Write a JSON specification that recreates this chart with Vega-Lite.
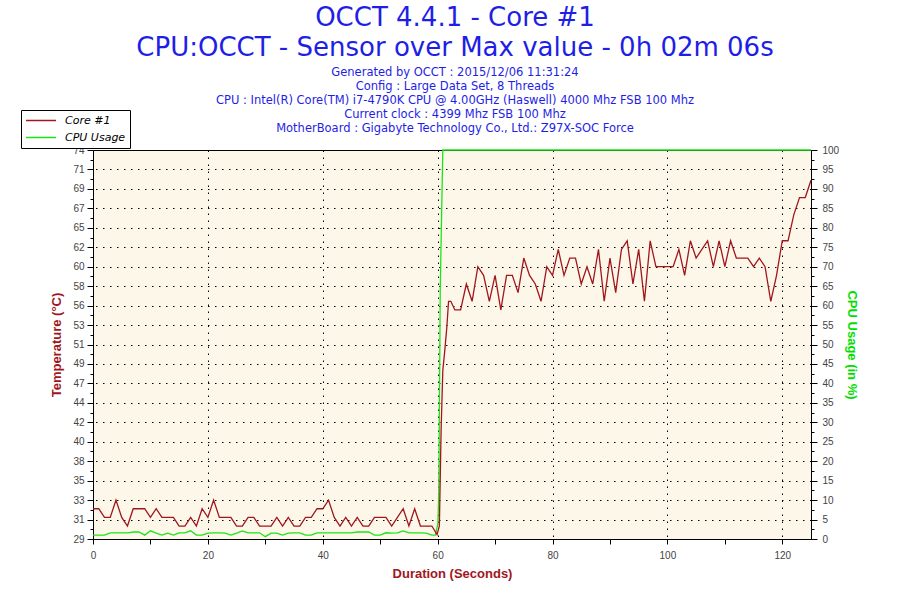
{
  "$schema": "https://vega.github.io/schema/vega-lite/v6.json",
  "width": 718,
  "height": 389,
  "autosize": {"type": "none"},
  "padding": {"left": 93, "top": 150, "right": 88, "bottom": 61},
  "background": "white",
  "title": {
    "text": ["OCCT 4.4.1 - Core #1", "CPU:OCCT - Sensor over Max value - 0h 02m 06s"],
    "subtitle": ["Generated by OCCT : 2015/12/06 11:31:24", "Config : Large Data Set, 8 Threads", "CPU : Intel(R) Core(TM) i7-4790K CPU @ 4.00GHz (Haswell) 4000 Mhz FSB 100 Mhz", "Current clock : 4399 Mhz FSB 100 Mhz", "MotherBoard : Gigabyte Technology Co., Ltd.: Z97X-SOC Force"],
    "anchor": "middle",
    "frame": "group",
    "dx": 3,
    "font": "DejaVu Sans",
    "fontSize": 26,
    "fontWeight": "normal",
    "color": "#1E1EE6",
    "lineHeight": 30,
    "subtitleFont": "DejaVu Sans",
    "subtitleFontSize": 11.5,
    "subtitleColor": "#1E1EE6",
    "subtitleLineHeight": 14,
    "subtitlePadding": 6,
    "offset": -25
  },
  "datasets": {
    "core": [
      {"time": 0, "temp": 32}, {"time": 1, "temp": 32}, {"time": 2, "temp": 31}, {"time": 3, "temp": 31}, {"time": 4, "temp": 33},
      {"time": 5, "temp": 31}, {"time": 6, "temp": 30}, {"time": 7, "temp": 32}, {"time": 8, "temp": 32}, {"time": 9, "temp": 32},
      {"time": 10, "temp": 31}, {"time": 11, "temp": 32}, {"time": 12, "temp": 31}, {"time": 13, "temp": 31}, {"time": 14, "temp": 31},
      {"time": 15, "temp": 30}, {"time": 16, "temp": 30}, {"time": 17, "temp": 31}, {"time": 18, "temp": 30}, {"time": 19, "temp": 32},
      {"time": 20, "temp": 31}, {"time": 21, "temp": 33}, {"time": 22, "temp": 31}, {"time": 23, "temp": 31}, {"time": 24, "temp": 31},
      {"time": 25, "temp": 30}, {"time": 26, "temp": 30}, {"time": 27, "temp": 31}, {"time": 28, "temp": 31}, {"time": 29, "temp": 30},
      {"time": 30, "temp": 30}, {"time": 31, "temp": 30}, {"time": 32, "temp": 31}, {"time": 33, "temp": 30}, {"time": 34, "temp": 31},
      {"time": 35, "temp": 30}, {"time": 36, "temp": 30}, {"time": 37, "temp": 31}, {"time": 38, "temp": 31}, {"time": 39, "temp": 32},
      {"time": 40, "temp": 32}, {"time": 41, "temp": 33}, {"time": 42, "temp": 31}, {"time": 43, "temp": 30}, {"time": 44, "temp": 31},
      {"time": 45, "temp": 30}, {"time": 46, "temp": 31}, {"time": 47, "temp": 30}, {"time": 48, "temp": 30}, {"time": 49, "temp": 31},
      {"time": 50, "temp": 31}, {"time": 51, "temp": 31}, {"time": 52, "temp": 30}, {"time": 53, "temp": 31}, {"time": 54, "temp": 32},
      {"time": 55, "temp": 30}, {"time": 56, "temp": 32}, {"time": 57, "temp": 30}, {"time": 58, "temp": 30}, {"time": 59, "temp": 30},
      {"time": 59.9, "temp": 29}, {"time": 60.3, "temp": 30}, {"time": 60.6, "temp": 41}, {"time": 60.9, "temp": 48}, {"time": 61.2, "temp": 50},
      {"time": 61.6, "temp": 53}, {"time": 61.9, "temp": 56}, {"time": 62.3, "temp": 56}, {"time": 63, "temp": 55}, {"time": 64, "temp": 55},
      {"time": 65, "temp": 58}, {"time": 66, "temp": 56}, {"time": 67, "temp": 60}, {"time": 68, "temp": 59}, {"time": 69, "temp": 56},
      {"time": 70, "temp": 59}, {"time": 71, "temp": 55}, {"time": 72, "temp": 59}, {"time": 73, "temp": 59}, {"time": 74, "temp": 57},
      {"time": 75, "temp": 61}, {"time": 76, "temp": 59}, {"time": 77, "temp": 58}, {"time": 78, "temp": 56}, {"time": 79, "temp": 60},
      {"time": 80, "temp": 59}, {"time": 81, "temp": 62}, {"time": 82, "temp": 59}, {"time": 83, "temp": 61}, {"time": 84, "temp": 61},
      {"time": 85, "temp": 58}, {"time": 86, "temp": 60}, {"time": 87, "temp": 58}, {"time": 88, "temp": 62}, {"time": 89, "temp": 56},
      {"time": 90, "temp": 61}, {"time": 91, "temp": 57}, {"time": 92, "temp": 62}, {"time": 93, "temp": 63}, {"time": 94, "temp": 58},
      {"time": 95, "temp": 62}, {"time": 96, "temp": 56}, {"time": 97, "temp": 63}, {"time": 98, "temp": 60}, {"time": 99, "temp": 60},
      {"time": 100, "temp": 60}, {"time": 101, "temp": 60}, {"time": 102, "temp": 62}, {"time": 103, "temp": 59}, {"time": 104, "temp": 63},
      {"time": 105, "temp": 61}, {"time": 106, "temp": 62}, {"time": 107, "temp": 63}, {"time": 108, "temp": 60}, {"time": 109, "temp": 63},
      {"time": 110, "temp": 60}, {"time": 111, "temp": 63}, {"time": 112, "temp": 61}, {"time": 113, "temp": 61}, {"time": 114, "temp": 61},
      {"time": 115, "temp": 60}, {"time": 116, "temp": 61}, {"time": 117, "temp": 60}, {"time": 118, "temp": 56}, {"time": 119, "temp": 59},
      {"time": 120, "temp": 63}, {"time": 121, "temp": 63}, {"time": 122, "temp": 66}, {"time": 123, "temp": 68}, {"time": 124, "temp": 68},
      {"time": 125, "temp": 70}
    ],
    "cpu": [
      {"time": 0, "usage": 1}, {"time": 1, "usage": 1}, {"time": 2, "usage": 1}, {"time": 3, "usage": 1.6}, {"time": 4, "usage": 1.6},
      {"time": 5, "usage": 1.6}, {"time": 6, "usage": 1.6}, {"time": 7, "usage": 1.8}, {"time": 8, "usage": 1.8}, {"time": 9, "usage": 1},
      {"time": 10, "usage": 2.1}, {"time": 11, "usage": 1.5}, {"time": 12, "usage": 1}, {"time": 13, "usage": 1.5}, {"time": 14, "usage": 1},
      {"time": 15, "usage": 1.6}, {"time": 16, "usage": 1.6}, {"time": 17, "usage": 2.1}, {"time": 18, "usage": 1}, {"time": 19, "usage": 1},
      {"time": 20, "usage": 1.5}, {"time": 21, "usage": 1.6}, {"time": 22, "usage": 1.6}, {"time": 23, "usage": 1.5}, {"time": 24, "usage": 1},
      {"time": 25, "usage": 1.5}, {"time": 26, "usage": 2.1}, {"time": 27, "usage": 1.6}, {"time": 28, "usage": 1.6}, {"time": 29, "usage": 1.6},
      {"time": 30, "usage": 0.6}, {"time": 31, "usage": 1.5}, {"time": 32, "usage": 1.5}, {"time": 33, "usage": 1}, {"time": 34, "usage": 1.5},
      {"time": 35, "usage": 1.6}, {"time": 36, "usage": 1.6}, {"time": 37, "usage": 1}, {"time": 38, "usage": 1}, {"time": 39, "usage": 1.6},
      {"time": 40, "usage": 1.6}, {"time": 41, "usage": 1.6}, {"time": 42, "usage": 1.6}, {"time": 43, "usage": 1.6}, {"time": 44, "usage": 1.6},
      {"time": 45, "usage": 1.6}, {"time": 46, "usage": 1.8}, {"time": 47, "usage": 1.8}, {"time": 48, "usage": 1.8}, {"time": 49, "usage": 1},
      {"time": 50, "usage": 1}, {"time": 51, "usage": 1.6}, {"time": 52, "usage": 1.5}, {"time": 53, "usage": 1.6}, {"time": 54, "usage": 2.1},
      {"time": 55, "usage": 1.6}, {"time": 56, "usage": 1.6}, {"time": 57, "usage": 1.6}, {"time": 58, "usage": 1.5}, {"time": 59, "usage": 1},
      {"time": 59.6, "usage": 1}, {"time": 60.05, "usage": 4}, {"time": 60.2, "usage": 12}, {"time": 60.45, "usage": 64}, {"time": 60.75, "usage": 88},
      {"time": 60.9, "usage": 100}, {"time": 125, "usage": 100}
    ]
  },
  "layer": [
    {
      "data": {"name": "cpu"},
      "mark": {"type": "line", "strokeWidth": 1.3, "interpolate": "linear"},
      "encoding": {
        "x": {"field": "time", "type": "quantitative", "scale": {"domain": [0, 125], "nice": false, "zero": false},
          "axis": {
            "title": "Duration (Seconds)", "titleColor": "#A0161C",
            "values": [0, 5, 10, 15, 20, 25, 30, 35, 40, 45, 50, 55, 60, 65, 70, 75, 80, 85, 90, 95, 100, 105, 110, 115, 120, 125],
            "labelExpr": "datum.value % 20 === 0 ? datum.label : ''",
            "grid": true,
            "gridOpacity": {"condition": {"test": "datum.value % 20 === 0 && datum.value > 0", "value": 1}, "value": 0},
            "tickSize": 5, "labelPadding": 6, "titlePadding": 7
          }},
        "y": {"field": "usage", "type": "quantitative", "scale": {"domain": [0, 100], "nice": false, "zero": false},
          "axis": {
            "orient": "right", "title": "CPU Usage (in %)", "titleColor": "#00E000",
            "values": [0, 2.5, 5, 7.5, 10, 12.5, 15, 17.5, 20, 22.5, 25, 27.5, 30, 32.5, 35, 37.5, 40, 42.5, 45, 47.5, 50, 52.5, 55, 57.5, 60, 62.5, 65, 67.5, 70, 72.5, 75, 77.5, 80, 82.5, 85, 87.5, 90, 92.5, 95, 97.5, 100],
            "labelExpr": "datum.value % 5 === 0 ? datum.label : ''",
            "tickSize": {"condition": {"test": "datum.value % 5 === 0", "value": 6}, "value": 3},
            "grid": true,
            "gridOpacity": {"condition": {"test": "datum.value % 5 === 0 && datum.value > 0 && datum.value < 100", "value": 1}, "value": 0},
            "labelPadding": 5, "titlePadding": 6
          }},
        "color": {"datum": "CPU Usage"}
      }
    },
    {
      "data": {"name": "core"},
      "mark": {"type": "line", "strokeWidth": 1.3, "interpolate": "linear"},
      "encoding": {
        "x": {"field": "time", "type": "quantitative"},
        "y": {"field": "temp", "type": "quantitative", "scale": {"domain": [28.5, 73.5], "nice": false, "zero": false},
          "axis": {
            "orient": "left", "title": "Temperature (°C)", "titleColor": "#A0161C",
            "values": [28.5, 29.625, 30.75, 31.875, 33, 34.125, 35.25, 36.375, 37.5, 38.625, 39.75, 40.875, 42, 43.125, 44.25, 45.375, 46.5, 47.625, 48.75, 49.875, 51, 52.125, 53.25, 54.375, 55.5, 56.625, 57.75, 58.875, 60, 61.125, 62.25, 63.375, 64.5, 65.625, 66.75, 67.875, 69, 70.125, 71.25, 72.375, 73.5],
            "labelExpr": "((datum.value - 28.5) / 2.25) % 1 === 0 ? '' + round(datum.value) : ''",
            "tickSize": {"condition": {"test": "((datum.value - 28.5) / 2.25) % 1 === 0", "value": 6}, "value": 3},
            "grid": false,
            "labelPadding": 3, "titlePadding": 9
          }},
        "color": {"datum": "Core #1",
          "scale": {"domain": ["Core #1", "CPU Usage"], "range": ["#A0161C", "#19E619"]},
          "legend": {
            "orient": "none", "legendX": -72, "legendY": -40, "title": null, "direction": "vertical",
            "symbolType": "stroke", "symbolSize": 900, "symbolStrokeWidth": 1.5,
            "labelFont": "DejaVu Sans", "labelFontStyle": "italic", "labelFontSize": 11, "labelColor": "black", "labelOffset": 8,
            "strokeColor": "black", "fillColor": "white", "padding": 4, "rowPadding": 4, "clipHeight": 13
          }}
      }
    }
  ],
  "resolve": {"scale": {"y": "independent"}},
  "config": {
    "view": {"stroke": "black", "strokeWidth": 1, "fill": "#FDF7E9"},
    "axis": {
      "labelFont": "Liberation Sans", "labelFontSize": 10, "labelColor": "#444444",
      "titleFont": "Liberation Sans", "titleFontSize": 13, "titleFontWeight": "bold",
      "domainColor": "black", "tickColor": "black", "gridColor": "black", "gridDash": [1.5, 5.5], "gridOpacity": 1,
      "labelFlush": false, "labelOverlap": false
    }
  }
}
